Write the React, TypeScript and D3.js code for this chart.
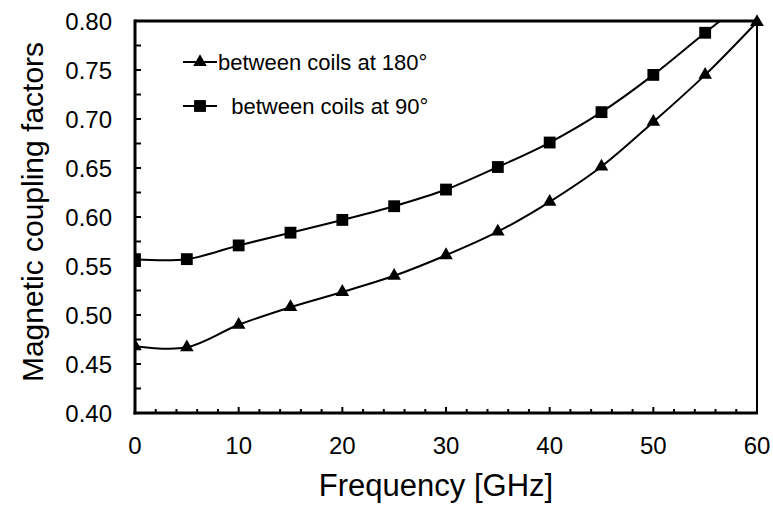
import React from "react";
import * as d3 from "d3";

const freq = [0, 5, 10, 15, 20, 25, 30, 35, 40, 45, 50, 55, 60];
const coils180 = [0.468, 0.467, 0.490, 0.508, 0.5235, 0.540, 0.561, 0.585, 0.6155, 0.6515, 0.697, 0.745, 0.799];
const coils90 = [0.557, 0.557, 0.571, 0.584, 0.597, 0.611, 0.628, 0.651, 0.676, 0.707, 0.745, 0.788, 0.83];
const xTickLabels = [0, 10, 20, 30, 40, 50, 60];
const yTickLabels = [0.4, 0.45, 0.5, 0.55, 0.6, 0.65, 0.7, 0.75, 0.8];
const legendLabels = ["between coils at 180°", "  between coils at 90°"];

const W = 773;
const H = 509;
const FONT = "'Liberation Sans', Arial, Helvetica, sans-serif";

export default function App() {
  const x = d3.scaleLinear().domain([0, 60]).range([135, 757]);
  const y = d3.scaleLinear().domain([0.4, 0.8]).range([413, 21]);
  const [x0, x1] = x.range();
  const [y0, y1] = y.range();

  const line = d3
    .line<number>()
    .x((_, i) => x(freq[i]))
    .y((d) => y(d))
    .curve(d3.curveCardinal.tension(0));

  const tri = d3.symbol().type(d3.symbolTriangle).size(80)() as string;
  const sq = d3.symbol().type(d3.symbolSquare).size(140)() as string;

  const xMinor = d3.range(0, 60.001, 2);
  const yMinor = d3.range(0.4, 0.8001, 0.025);

  return (
    <svg
      width={W}
      height={H}
      viewBox={`0 0 ${W} ${H}`}
      style={{ position: "absolute", left: 0, top: 0, background: "#fff" }}
      fontFamily={FONT}
    >
      <defs>
        <clipPath id="plot">
          <rect x={x0} y={y1 - 1} width={x1 - x0 + 1} height={y0 - y1 + 1} />
        </clipPath>
      </defs>
      <rect width={W} height={H} fill="#fff" />

      {/* frame */}
      <line x1={x0} x2={x1} y1={y1} y2={y1} stroke="#000" strokeWidth={3} />
      <line x1={x1} x2={x1} y1={y1} y2={y0} stroke="#000" strokeWidth={2} />

      {/* x ticks */}
      {xMinor.map((v) => {
        const major = Math.abs(v % 10) < 1e-6;
        return (
          <line
            key={"xt" + v}
            x1={x(v)}
            x2={x(v)}
            y1={y0}
            y2={y0 - (major ? 6 : 4)}
            stroke="#000"
            strokeWidth={2}
          />
        );
      })}
      {/* y ticks */}
      {yMinor.map((v) => (
        <line
          key={"yt" + v.toFixed(3)}
          x1={x0}
          x2={x0 + 6}
          y1={y(v)}
          y2={y(v)}
          stroke="#000"
          strokeWidth={2}
        />
      ))}

      {/* axes */}
      <line x1={x0} x2={x0} y1={y1 - 1.5} y2={y0 + 1.5} stroke="#000" strokeWidth={3} />
      <line x1={x0 - 1.5} x2={x1 + 1} y1={y0} y2={y0} stroke="#000" strokeWidth={3} />

      {/* tick labels */}
      {xTickLabels.map((v) => (
        <text key={"xl" + v} x={x(v)} y={454} textAnchor="middle" fontSize={24} fill="#000">
          {v}
        </text>
      ))}
      {yTickLabels.map((v) => (
        <text
          key={"yl" + v}
          x={112}
          y={y(v)}
          dy="0.36em"
          textAnchor="end"
          fontSize={24}
          fill="#000"
        >
          {v.toFixed(2)}
        </text>
      ))}

      {/* titles */}
      <text x={436} y={496} textAnchor="middle" fontSize={31} fill="#000">
        Frequency [GHz]
      </text>
      <text
        transform={`translate(43, 212) rotate(-90)`}
        textAnchor="middle"
        fontSize={30}
        fill="#000"
      >
        Magnetic coupling factors
      </text>

      {/* series */}
      <g clipPath="url(#plot)">
        <path d={line(coils90) || ""} fill="none" stroke="#000" strokeWidth={2} />
        <path d={line(coils180) || ""} fill="none" stroke="#000" strokeWidth={2} />
        {coils90.map((v, i) => (
          <path key={"s" + i} d={sq} transform={`translate(${x(freq[i])},${y(v)})`} fill="#000" />
        ))}
        {coils180.map((v, i) => (
          <path key={"t" + i} d={tri} transform={`translate(${x(freq[i])},${y(v)})`} fill="#000" />
        ))}
      </g>
      {/* triangle at the corner is drawn over the frame */}
      <path
        d={tri}
        transform={`translate(${x(freq[12])},${y(coils180[12])})`}
        fill="#000"
      />

      {/* legend */}
      <line x1={183} x2={217} y1={62} y2={62} stroke="#000" strokeWidth={2} />
      <path d={tri} transform="translate(200,62)" fill="#000" />
      <text x={218} y={62} dy="0.36em" fontSize={22} fill="#000" style={{ whiteSpace: "pre" }}>
        {legendLabels[0]}
      </text>
      <line x1={183} x2={217} y1={106} y2={106} stroke="#000" strokeWidth={2} />
      <path d={sq} transform="translate(200,106)" fill="#000" />
      <text x={219} y={106} dy="0.36em" fontSize={22} fill="#000" style={{ whiteSpace: "pre" }}>
        {legendLabels[1]}
      </text>
    </svg>
  );
}
